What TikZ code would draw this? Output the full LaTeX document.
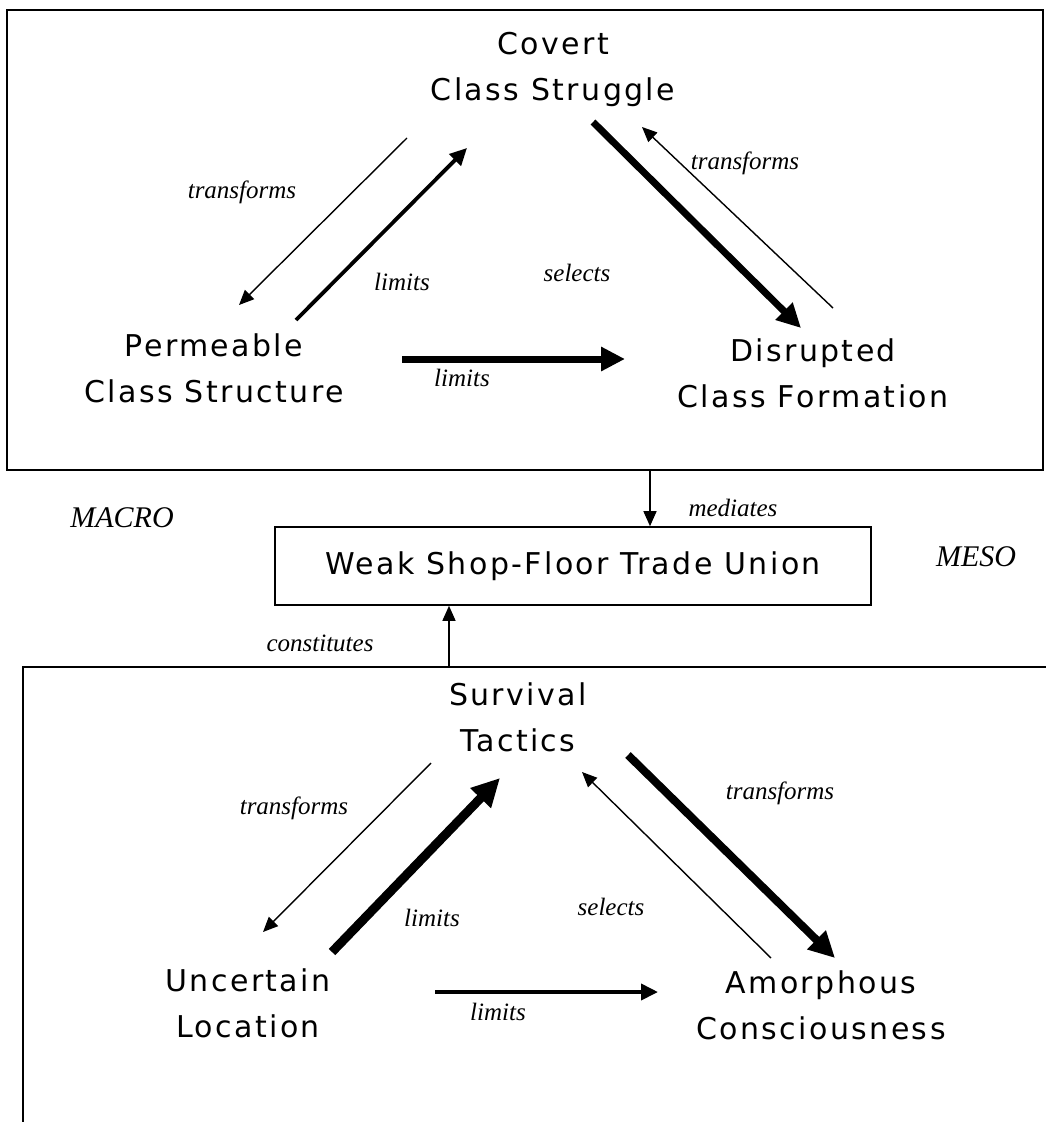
\documentclass[tikz,border=0pt]{standalone}
\usepackage{fontspec}
\newfontfamily\conceptfont{DejaVu Sans}[LetterSpace=8]
\newfontfamily\notefont{Liberation Serif}
\usepackage{tikz}
\usetikzlibrary{arrows.meta,positioning,calc}

\tikzset{
	concept/.style={font=\conceptfont\fontsize{30}{46}\selectfont, align=center, inner sep=0pt},
	verb/.style={font=\notefont\itshape\fontsize{25}{30}\selectfont, inner sep=0pt},
	level/.style={font=\notefont\itshape\fontsize{30}{36}\selectfont, inner sep=0pt},
	lightarrow/.style={line width=1.4pt, -{Triangle[length=15pt,width=13pt]}},
	midarrow/.style={line width=3.8pt, -{Triangle[length=17pt,width=16pt]}},
	heavyarrow/.style={line width=7pt, -{Triangle[length=24pt,width=23pt]}},
}

\begin{document}
\begin{tikzpicture}[x=1pt, y=-1pt]
	\useasboundingbox (0, 0) rectangle (1046, 1122);

	% frames
	\draw[line width=2.4pt] (7, 10) rectangle (1043, 470);
	\draw[line width=1.6pt] (1046, 667) -- (23, 667) -- (23, 1122);

	% macro level
	\node[concept] (covert) at (553, 69) {Covert\\Class Struggle};
	\node[concept] (permeable) at (214, 368) {Permeable\\Class Structure};
	\node[concept] (disrupted) at (813, 373) {Disrupted\\Class Formation};

	\coordinate (cp-a) at (407, 138);
	\coordinate (cp-b) at (239, 305);
	\coordinate (pc-a) at (296, 320);
	\coordinate (pc-b) at (467, 148);
	\coordinate (pd-a) at (402, 359);
	\coordinate (pd-b) at (625, 359);
	\coordinate (cd-a) at (593, 122);
	\coordinate (cd-b) at (801, 328);
	\coordinate (dc-a) at (833, 308);
	\coordinate (dc-b) at (642, 127);

	\draw[lightarrow] (cp-a) -- (cp-b);
	\draw[midarrow] (pc-a) -- (pc-b);
	\draw[heavyarrow] (pd-a) -- (pd-b);
	\draw[heavyarrow] (cd-a) -- (cd-b);
	\draw[lightarrow] (dc-a) -- (dc-b);

	\node[verb] (cp-lbl) at (242, 192) {transforms};
	\node[verb] (pc-lbl) at (402, 282) {limits};
	\node[verb] (cd-lbl) at (577, 273) {selects};
	\node[verb] (pd-lbl) at (462, 378) {limits};
	\node[verb] (dc-lbl) at (745, 163) {transforms};

	% meso level
	\node[concept, draw, line width=1.6pt, minimum width=596pt, minimum height=78pt] (union) at (573, 566) {Weak Shop-Floor Trade Union};
	\node[level] (macro) at (122, 518) {MACRO};
	\node[level] (meso) at (976, 557) {MESO};

	\coordinate (med-a) at (650, 470);
	\coordinate (con-a) at (449, 667);
	\draw[lightarrow] (med-a) -- (med-a |- union.north);
	\draw[lightarrow] (con-a) -- (con-a |- union.south);
	\node[verb] (med-lbl) at (733, 508) {mediates};
	\node[verb] (con-lbl) at (320, 643) {constitutes};

	% micro level
	\node[concept] (survival) at (518, 717) {Survival\\Tactics};
	\node[concept] (uncertain) at (248, 1003) {Uncertain\\Location};
	\node[concept] (amorphous) at (821, 1005) {Amorphous\\Consciousness};

	\coordinate (su-a) at (431, 763);
	\coordinate (su-b) at (263, 932);
	\coordinate (us-a) at (332, 952);
	\coordinate (us-b) at (500, 778);
	\coordinate (sa-a) at (628, 755);
	\coordinate (sa-b) at (835, 958);
	\coordinate (as-a) at (771, 958);
	\coordinate (as-b) at (582, 772);
	\coordinate (ua-a) at (435, 992);
	\coordinate (ua-b) at (658, 992);

	\draw[lightarrow] (su-a) -- (su-b);
	\draw[heavyarrow, line width=9pt, -{Triangle[length=28pt,width=27pt]}] (us-a) -- (us-b);
	\draw[heavyarrow, line width=8pt, -{Triangle[length=26pt,width=25pt]}] (sa-a) -- (sa-b);
	\draw[lightarrow] (as-a) -- (as-b);
	\draw[midarrow] (ua-a) -- (ua-b);

	\node[verb] (su-lbl) at (294, 808) {transforms};
	\node[verb] (us-lbl) at (432, 918) {limits};
	\node[verb] (as-lbl) at (611, 907) {selects};
	\node[verb] (sa-lbl) at (780, 793) {transforms};
	\node[verb] (ua-lbl) at (498, 1012) {limits};

\end{tikzpicture}
\end{document}
